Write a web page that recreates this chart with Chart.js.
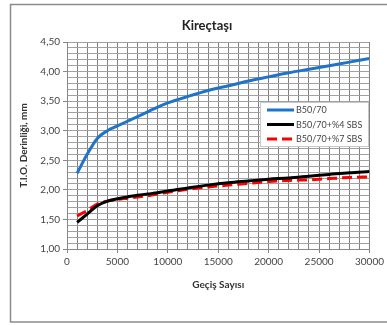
<!DOCTYPE html>
<html lang="tr">
<head>
<meta charset="utf-8">
<title>Kireçtaşı</title>
<script src="https://cdnjs.cloudflare.com/ajax/libs/Chart.js/4.4.1/chart.umd.min.js"></script>
<style>
  body { margin: 0; background: #fff; }
</style>
<script>

// gecis sayisi (x) and rut depth values
var passes   = [1000, 2000, 3000, 4000, 5000, 6000, 7000, 8000, 9000, 10000, 12000, 14000, 16000, 18000, 20000, 22000, 24000, 26000, 28000, 30000];
var b5070    = [2.28, 2.60, 2.87, 3.00, 3.08, 3.16, 3.24, 3.32, 3.40, 3.47, 3.58, 3.68, 3.76, 3.84, 3.91, 3.98, 4.04, 4.10, 4.16, 4.22];
var sbs4     = [1.45, 1.59, 1.73, 1.81, 1.85, 1.88, 1.91, 1.93, 1.95, 1.98, 2.03, 2.08, 2.12, 2.15, 2.18, 2.20, 2.23, 2.26, 2.29, 2.31];
var sbs7     = [1.56, 1.65, 1.76, 1.81, 1.84, 1.86, 1.88, 1.90, 1.93, 1.96, 2.01, 2.05, 2.08, 2.11, 2.14, 2.16, 2.17, 2.19, 2.21, 2.22];
var seriesNames = ['B50/70', 'B50/70+%4 SBS', 'B50/70+%7 SBS'];
var chartTitle = 'Kireçtaşı';
var xTitle = 'Geçiş Sayısı';
var yTitle = 'T.I.O. Derinliği, mm';

function pts(ys) {
    var out = [];
    for (var i = 0; i < passes.length; i++) { out.push({x: passes[i], y: ys[i]}); }
    return out;
}

// frame, title and the boxed legend inside the plot
var decor = {
    id: 'decor',
    beforeDraw: function(chart) {
        var ctx = chart.ctx;
        ctx.save();
        ctx.fillStyle = '#fff';
        ctx.fillRect(0, 0, chart.width, chart.height);
        ctx.strokeStyle = '#8c8c8c';
        ctx.lineWidth = 1.5;
        ctx.strokeRect(10.5, 4.5, 390, 317.5);
        ctx.restore();
    },
    afterDraw: function(chart) {
        var ctx = chart.ctx;
        ctx.save();
        ctx.fillStyle = '#222';
        ctx.font = 'bold 13px Lato';
        ctx.textAlign = 'center';
        ctx.textBaseline = 'middle';
        ctx.fillText(chartTitle, 207, 26);

        // legend
        var bx = 260, by = 102, bw = 108, bh = 44;
        ctx.fillStyle = '#fff';
        ctx.fillRect(bx, by, bw, bh);
        ctx.strokeStyle = '#c8c8c8';
        ctx.lineWidth = 1;
        ctx.strokeRect(bx + 0.5, by + 0.5, bw, bh);
        var ds = chart.data.datasets;
        ctx.font = '9px Lato';
        ctx.textAlign = 'left';
        for (var i = 0; i < ds.length; i++) {
            var y = by + 8 + i * 14.5;
            ctx.strokeStyle = ds[i].borderColor;
            ctx.lineWidth = 3;
            ctx.setLineDash(ds[i].borderDash || []);
            ctx.beginPath();
            ctx.moveTo(267, y);
            ctx.lineTo(294, y);
            ctx.stroke();
            ctx.setLineDash([]);
            ctx.fillStyle = '#444';
            ctx.fillText(ds[i].label, 296, y + 0.5);
        }
        ctx.restore();
    }
};

function draw() {
    var ctx = document.getElementById('myChart');
    var myChart = new Chart(ctx, {
        type: 'line',
        data: {
            datasets: [
                { label: seriesNames[0], data: pts(b5070), borderColor: '#1f74c9', borderWidth: 3, pointRadius: 0, cubicInterpolationMode: 'monotone', fill: false },
                { label: seriesNames[1], data: pts(sbs4), borderColor: '#000000', borderWidth: 3, pointRadius: 0, cubicInterpolationMode: 'monotone', fill: false },
                { label: seriesNames[2], data: pts(sbs7), borderColor: '#ff0000', borderWidth: 3, borderDash: [10, 5], pointRadius: 0, cubicInterpolationMode: 'monotone', fill: false }
            ]
        },
        options: {
            responsive: false,
            animation: false,
            layout: { padding: { left: 0, right: 17, top: 42, bottom: 0 } },
            plugins: { legend: { display: false }, title: { display: false }, tooltip: { enabled: false } },
            scales: {
                x: {
                    type: 'linear',
                    min: 0, max: 30000,
                    afterFit: function(s) { s.height = 76; },
                    ticks: {
                        stepSize: 1000, autoSkip: false, maxRotation: 0, padding: 3,
                        color: '#444', font: { family: 'Lato', size: 10 },
                        callback: function(v) { return v % 5000 === 0 ? String(v) : ''; }
                    },
                    grid: {
                        color: '#808080', tickLength: 4,
                        tickColor: function(c) { return c.tick && c.tick.value % 5000 === 0 ? '#888' : 'rgba(0,0,0,0)'; }
                    },
                    border: { color: '#888' },
                    title: { display: true, text: xTitle, color: '#333', font: { family: 'Lato', size: 10, weight: 'bold' }, padding: { top: 0, bottom: 34 } }
                },
                y: {
                    min: 1, max: 4.5,
                    afterFit: function(s) { s.width = 67; },
                    ticks: {
                        stepSize: 0.1, autoSkip: false, padding: 3, maxTicksLimit: 100,
                        color: '#444', font: { family: 'Lato', size: 10 },
                        callback: function(v) {
                            return Math.round(v * 100) % 50 === 0 ? v.toFixed(2).replace('.', ',') : '';
                        }
                    },
                    grid: {
                        color: '#a0a0a0', tickLength: 4,
                        tickColor: function(c) { return c.tick && Math.round(c.tick.value * 100) % 50 === 0 ? '#888' : 'rgba(0,0,0,0)'; }
                    },
                    border: { color: '#888' },
                    title: { display: true, text: yTitle, color: '#333', font: { family: 'Lato', size: 10, weight: 'bold' }, padding: { top: 18, bottom: 0 } }
                }
            }
        },
        plugins: [decor]
    });
}

</script>
</head>
<body onload="draw();">
<canvas id="myChart" width="387" height="325"></canvas>
</body>
</html>
